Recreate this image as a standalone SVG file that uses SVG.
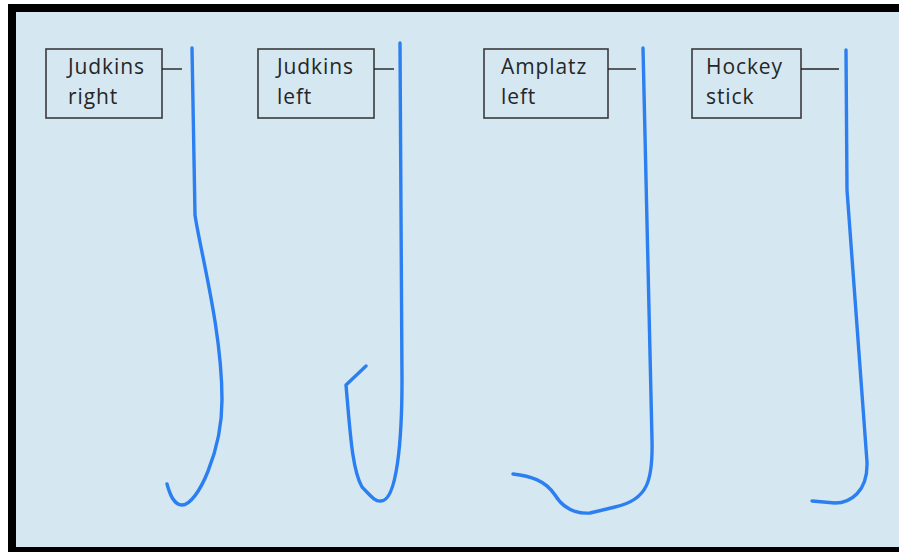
<svg xmlns="http://www.w3.org/2000/svg" width="899" height="552" viewBox="0 0 899 552">
<style>
.box{fill:none;stroke:#3a3a3a;stroke-width:1.6}
.lead{stroke:#222;stroke-width:1.4;fill:none}
.cath{fill:none;stroke:#2c7ff0;stroke-width:3.4;stroke-linecap:round;stroke-linejoin:round}
.lbl{font-family:"Open Sans","Liberation Sans",sans-serif;font-size:21px;letter-spacing:0.9px;fill:#262626}
</style>
<rect x="0" y="0" width="899" height="552" fill="#ffffff"/>
<rect x="8" y="4" width="891" height="548" fill="#000000"/>
<rect x="16" y="12" width="883" height="535" fill="#d5e8f2"/>
<g id="judkins-right">
<rect class="box" x="46" y="49" width="116" height="69"/>
<text class="lbl" x="68" y="74">Judkins</text>
<text class="lbl" x="68" y="104">right</text>
<path class="cath" d="M192,48 L195,215 C200,250 222,330 222,400 C222,450 198,505 182,505 C174,505 170,495 167,484"/>
</g>
<g id="judkins-left">
<rect class="box" x="258" y="49" width="116" height="69"/>
<text class="lbl" x="277" y="74">Judkins</text>
<text class="lbl" x="277" y="104">left</text>
<path class="cath" d="M400,43 L402,380 C402,440 397,501 381,501 C375,502 370,495 362,487 C352,470 350,430 346,385 L366,366"/>
</g>
<g id="amplatz-left">
<rect class="box" x="484" y="49" width="124" height="69"/>
<text class="lbl" x="501" y="74">Amplatz</text>
<text class="lbl" x="501" y="104">left</text>
<path class="cath" d="M643,48 L652,440 C653,480 648,500 615,507 L590,513 C575,514 563,508 555,495 C545,480 530,476 513,474"/>
</g>
<g id="hockey-stick">
<rect class="box" x="692" y="49" width="109" height="69"/>
<text class="lbl" x="706" y="74">Hockey</text>
<text class="lbl" x="706" y="104">stick</text>
<path class="cath" d="M846,50 L847,190 L867,462 C868,492 850,503 835,503 L812,501"/>
</g>
<g id="connectors">
<line class="lead" x1="162" y1="69" x2="182" y2="69"/>
<line class="lead" x1="374" y1="69" x2="394" y2="69"/>
<line class="lead" x1="608" y1="69" x2="636" y2="69"/>
<line class="lead" x1="801" y1="69" x2="839" y2="69"/>
</g>
</svg>
